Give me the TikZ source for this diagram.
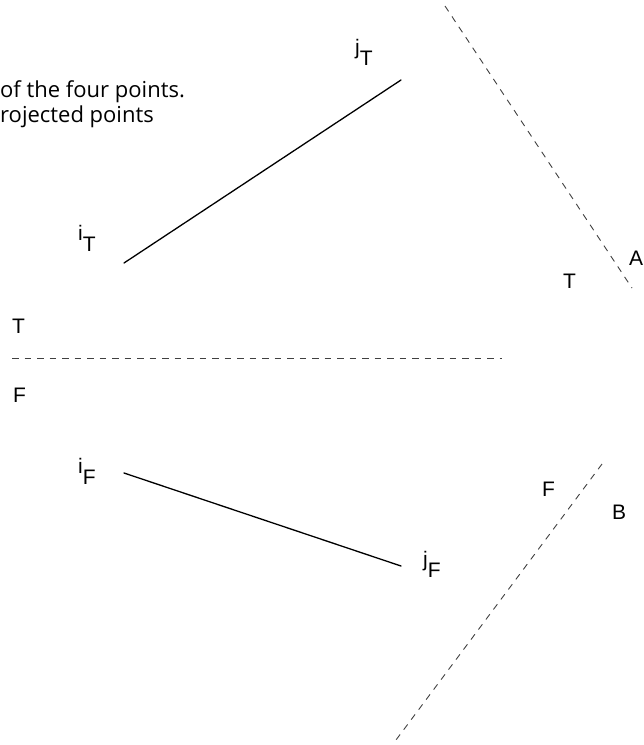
\documentclass[tikz,border=0pt]{standalone}
\usepackage{fontspec}
\setmainfont{Liberation Sans}
\newfontfamily\notefont{Open Sans}
\usetikzlibrary{positioning}
\tikzset{
  lbl/.style={anchor=base west, inner sep=0pt, font=\fontsize{21}{24}\selectfont},
  note/.style={anchor=base west, inner sep=0pt, font=\notefont\fontsize{22}{25}\selectfont},
  edge/.style={line width=1.3pt, line cap=round},
  fold/.style={line width=0.9pt, gray!50!black, dash pattern=on 6.5pt off 6pt}
}
\newcommand{\ptlbl}[2]{#1\raisebox{-11pt}{#2}}

\begin{document}
\begin{tikzpicture}[x=1pt,y=-1pt]
  \useasboundingbox (0,0) rectangle (644,745);

  \node[note] (note1) at (0,97) {of the four points.};
  \node[note] (note2) at (0,122) {rojected points};

  % top view
  \coordinate (iT) at (124,263);
  \coordinate (jT) at (401,80);
  \draw[edge] (iT) -- (jT);
  \node[lbl] (labiT) at (78,240) {\ptlbl{i}{T}};
  \node[lbl] (labjT) at (355,54) {\ptlbl{j}{T}};

  % front view
  \coordinate (iF) at (124,473);
  \coordinate (jF) at (401,566);
  \draw[edge] (iF) -- (jF);
  \node[lbl] (labiF) at (78,473) {\ptlbl{i}{F}};
  \node[lbl] (labjF) at (423,566) {\ptlbl{j}{F}};

  % folding lines
  \coordinate (tf1) at (12,358);
  \coordinate (tf2) at (502,358);
  \draw[fold] (tf1) -- (tf2);
  \node[lbl] (labT) at (12,333) {T};
  \node[lbl] (labF) at (13,402) {F};

  \coordinate (ta1) at (445,6);
  \coordinate (ta2) at (632,288);
  \draw[fold] (ta1) -- (ta2);
  \node[lbl] (labTA) at (563,288) {T};
  \node[lbl] (labA) at (629,265) {A};

  \coordinate (fb1) at (602,464);
  \coordinate (fb2) at (393,744);
  \draw[fold] (fb1) -- (fb2);
  \node[lbl] (labFB) at (542,496) {F};
  \node[lbl] (labB) at (612,519) {B};
\end{tikzpicture}
\end{document}
